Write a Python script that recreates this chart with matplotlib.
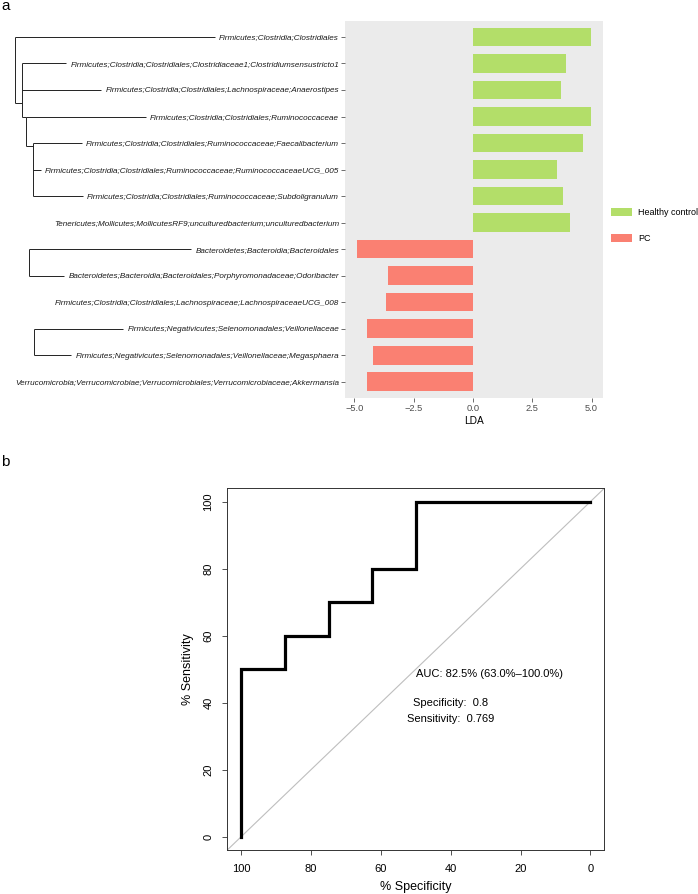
import matplotlib
matplotlib.use('Agg')
import matplotlib.pyplot as plt
from matplotlib.patches import Patch
import numpy as np

plt.rcParams['font.family'] = ['Liberation Sans', 'DejaVu Sans']

# ---------------- data: panel a (LEfSe LDA) ----------------
taxa = [
    'Firmicutes;Clostridia;Clostridiales',
    'Firmicutes;Clostridia;Clostridiales;Clostridiaceae1;Clostridiumsensustricto1',
    'Firmicutes;Clostridia;Clostridiales;Lachnospiraceae;Anaerostipes',
    'Firmicutes;Clostridia;Clostridiales;Ruminococcaceae',
    'Firmicutes;Clostridia;Clostridiales;Ruminococcaceae;Faecalibacterium',
    'Firmicutes;Clostridia;Clostridiales;Ruminococcaceae;RuminococcaceaeUCG_005',
    'Firmicutes;Clostridia;Clostridiales;Ruminococcaceae;Subdoligranulum',
    'Tenericutes;Mollicutes;MollicutesRF9;unculturedbacterium;unculturedbacterium',
    'Bacteroidetes;Bacteroidia;Bacteroidales',
    'Bacteroidetes;Bacteroidia;Bacteroidales;Porphyromonadaceae;Odoribacter',
    'Firmicutes;Clostridia;Clostridiales;Lachnospiraceae;LachnospiraceaeUCG_008',
    'Firmicutes;Negativicutes;Selenomonadales;Veillonellaceae',
    'Firmicutes;Negativicutes;Selenomonadales;Veillonellaceae;Megasphaera',
    'Verrucomicrobia;Verrucomicrobiae;Verrucomicrobiales;Verrucomicrobiaceae;Akkermansia',
]
lda = [4.99, 3.91, 3.72, 4.97, 4.66, 3.55, 3.79, 4.10,
       -4.90, -3.59, -3.66, -4.48, -4.22, -4.45]
groups = ['Healthy control'] * 8 + ['PC'] * 6
group_order = ['Healthy control', 'PC']
group_colors = {'Healthy control': '#B3DE69', 'PC': '#FA8072'}
lda_ticks = [-5.0, -2.5, 0.0, 2.5, 5.0]

# cladogram drawn beside the labels (node depth in px from left, attach row)
tree_nodes = ['R1', 'A', 'B', 'C', 'D', 'E']
tree_depth = [15.0, 21.7, 26.0, 33.3, 29.3, 34.0]
tree_attach_row = [None, 2.5, 3.0, 4.1, None, None]
tree_edges = [('R1', 0), ('R1', 'A'), ('A', 1), ('A', 2), ('A', 'B'),
              ('B', 3), ('B', 'C'), ('C', 4), ('C', 5), ('C', 6),
              ('D', 8), ('D', 9), ('E', 11), ('E', 12)]

# ---------------- data: panel b (ROC) ----------------
roc_specificity = [100, 100, 87.5, 87.5, 75, 75, 62.5, 62.5, 50, 50, 0]
roc_sensitivity = [0, 50, 50, 60, 60, 70, 70, 80, 80, 100, 100]
roc_ticks = [0, 20, 40, 60, 80, 100]
auc_text = 'AUC: 82.5% (63.0%\u2013100.0%)'
spec_text = 'Specificity:  0.8'
sens_text = 'Sensitivity:  0.769'

# ---------------- figure ----------------
W, H = 698, 894
fig = plt.figure(figsize=(W / 100, H / 100), dpi=100)


def frac(l, t, r, b):
    return [l / W, 1 - b / H, (r - l) / W, (b - t) / H]


ax_bar = fig.add_axes(frac(345, 21, 603, 397.7))
ax_tree = fig.add_axes(frac(0, 21, 345, 397.7))
ax_roc = fig.add_axes(frac(227.3, 488.3, 604.3, 850))

# ----- bars -----
n = len(taxa)
ypos = np.arange(n)
ax_bar.barh(ypos, lda, height=0.7, color=[group_colors[g] for g in groups], zorder=2)
ax_bar.set_facecolor('#EBEBEB')
for s in ax_bar.spines.values():
    s.set_visible(False)
ylim = (n - 1 + 0.6, -0.6)
ax_bar.set_ylim(*ylim)
lo, hi = min(lda), max(lda)
rng = hi - lo
ax_bar.set_xlim(lo - 0.05 * rng, hi + 0.05 * rng)
ax_bar.set_xticks(lda_ticks)
ax_bar.set_xticklabels([f'{t:.1f}'.replace('-', '\u2212') for t in lda_ticks],
                       fontsize=6.7, color='#4D4D4D')
ax_bar.set_yticks(ypos)
ax_bar.set_yticklabels(taxa, fontsize=5.9, style='italic', color='#1A1A1A')
ax_bar.tick_params(axis='both', length=2.75, width=0.5, color='#333333')
ax_bar.tick_params(axis='x', pad=2.0)
ax_bar.tick_params(axis='y', pad=1.5)
ax_bar.set_xlabel('LDA', fontsize=7.3, labelpad=2)

# legend
handles = [Patch(facecolor=group_colors[g], edgecolor='none') for g in group_order]
fig.legend(handles, group_order, loc='center left',
           bbox_to_anchor=(611 / W, 1 - 225.3 / H), bbox_transform=fig.transFigure,
           frameon=False, fontsize=6.5, handlelength=2.3, handleheight=1.0,
           labelspacing=1.9, handletextpad=0.7, borderpad=0, borderaxespad=0)

# ----- tree -----
ax_tree.set_xlim(0, 345)
ax_tree.set_ylim(*ylim)
ax_tree.axis('off')
fig.canvas.draw()
renderer = fig.canvas.get_renderer()
inv = ax_tree.transData.inverted()
label_left = {}
for i, lab in enumerate(ax_bar.get_yticklabels()):
    bb = lab.get_window_extent(renderer)
    label_left[i] = inv.transform((bb.x0, bb.y0))[0] - 4

depth = dict(zip(tree_nodes, tree_depth))
attach = dict(zip(tree_nodes, tree_attach_row))
child_rows = {k: [] for k in tree_nodes}
tree_kw = dict(color='#222222', lw=0.7, solid_capstyle='butt')
for parent, child in tree_edges:
    px = depth[parent]
    if isinstance(child, int):
        cy, cx = child, label_left[child]
    else:
        cy, cx = attach[child], depth[child]
    child_rows[parent].append(cy)
    ax_tree.plot([px, cx], [cy, cy], **tree_kw)
for node in tree_nodes:
    ys = child_rows[node]
    ax_tree.plot([depth[node], depth[node]], [min(ys), max(ys)], **tree_kw)

# ----- ROC -----
ax_roc.plot(roc_specificity, roc_sensitivity, color='black', lw=2.3,
            solid_joinstyle='miter', zorder=3)
ax_roc.axline((100, 0), (0, 100), color='#BEBEBE', lw=0.8, zorder=1)
ax_roc.set_xlim(104, -4)
ax_roc.set_ylim(-4, 104)
ax_roc.set_xticks(roc_ticks)
ax_roc.set_yticks(roc_ticks)
ax_roc.set_xticklabels([str(t) for t in roc_ticks])
ax_roc.set_yticklabels([str(t) for t in roc_ticks], rotation=90, va='center')
ax_roc.tick_params(direction='out', length=3.6, width=0.6, labelsize=8, pad=6.5,
                   color='#333333')
for s in ax_roc.spines.values():
    s.set_linewidth(0.7)
    s.set_color('#333333')
ax_roc.set_xlabel('% Specificity', fontsize=9)
ax_roc.set_ylabel('% Sensitivity', fontsize=9)
ax_roc.xaxis.set_label_coords(0.5, (850 - 887.3) / 361.7)
ax_roc.yaxis.set_label_coords((188.3 - 227.3) / 377, 0.5)
ax_roc.xaxis.label.set_va('center')
ax_roc.yaxis.label.set_va('center')
ax_roc.text(50, 50, auc_text, ha='left', va='top', fontsize=8)
ax_roc.text(40, 40, spec_text, ha='center', va='center', fontsize=8)
ax_roc.text(40, 35, sens_text, ha='center', va='center', fontsize=8)

# panel letters
fig.text(1 / W, 1 - 10 / H, 'a', fontsize=11, va='baseline', ha='left')
fig.text(1 / W, 1 - 466 / H, 'b', fontsize=11, va='baseline', ha='left')

fig.savefig('out.png', dpi=100)
